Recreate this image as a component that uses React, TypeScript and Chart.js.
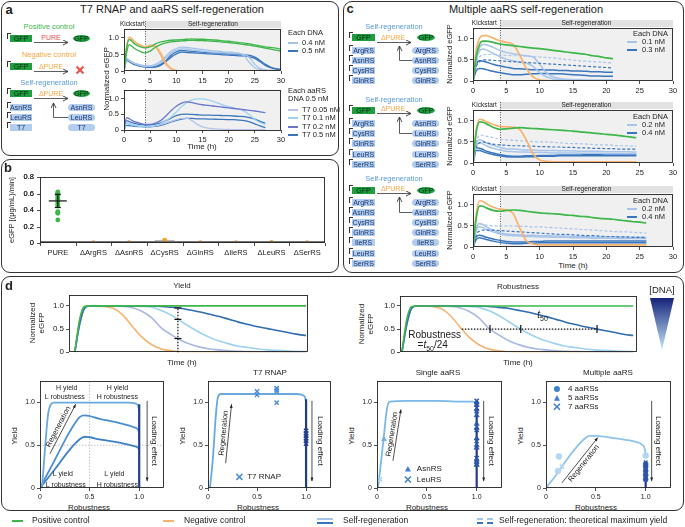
import React, { useEffect, useRef } from 'react';
import { Chart, registerables } from 'chart.js';

Chart.register(...registerables);

const FONT = '"Liberation Sans", Arial, Helvetica, sans-serif';
const INK = '#222';
const GREEN = '#3db64a';
const ORANGE = '#f7b36e';
const LIGHT = '#a7c4ea';
const DARK = '#3a76be';
const LAV = '#b7c5ec';
const SKY = '#9dd2f1';
const PURP = '#6976cb';
const NAVY = '#213c8f';
const GENE = '#b3cdee';
const GENE_TXT = '#1c356e';
const GFP_BG = '#1f9d3f';
const HDR = '#e2e2e2';
const SHADE = '#f0f0f0';

// ---------- panel a (top): each DNA 0.4 / 0.5 nM ----------
const aTime = [0, 0.5, 1, 1.5, 2, 3, 4, 5, 6, 7, 8, 9, 10, 11, 12, 13, 14, 15, 16, 17, 18, 19, 20, 21, 22, 23, 24, 25, 26, 27, 28, 29, 30];
const aPos1 = [0, 0.7, 0.95, 0.9, 0.82, 0.74, 0.7, 0.73, 0.82, 0.88, 0.91, 0.93, 0.94, 0.95, 0.96, 0.97, 0.96, 0.96, 0.95, 0.94, 0.93, 0.91, 0.9, 0.88, 0.86, 0.84, 0.82, 0.79, 0.76, 0.73, 0.71, 0.69, 0.66];
const aPos2 = [0, 0.55, 0.8, 0.75, 0.68, 0.6, 0.55, 0.6, 0.72, 0.8, 0.85, 0.88, 0.9, 0.91, 0.92, 0.93, 0.92, 0.92, 0.91, 0.9, 0.89, 0.87, 0.86, 0.84, 0.82, 0.8, 0.78, 0.75, 0.72, 0.69, 0.66, 0.63, 0.6];
const aNeg1 = [0, 0.75, 1.02, 0.98, 0.9, 0.8, 0.74, 0.78, 0.76, 0.55, 0.25, 0.08, 0.02, 0.01, 0, 0, 0, 0, 0, 0, 0, 0, 0, 0, 0, 0, 0, 0, 0, 0, 0, 0, 0];
const aNeg2 = [0, 0.7, 0.97, 0.95, 0.88, 0.78, 0.72, 0.75, 0.72, 0.48, 0.2, 0.06, 0.02, 0.01, 0, 0, 0, 0, 0, 0, 0, 0, 0, 0, 0, 0, 0, 0, 0, 0, 0, 0, 0];
const aLight1 = [0, 0.38, 0.33, 0.28, 0.24, 0.19, 0.16, 0.16, 0.2, 0.3, 0.45, 0.6, 0.68, 0.72, 0.71, 0.69, 0.67, 0.65, 0.63, 0.61, 0.6, 0.58, 0.57, 0.56, 0.54, 0.45, 0.25, 0.1, 0.04, 0.02, 0.01, 0.01, 0.01];
const aLight2 = [0, 0.35, 0.31, 0.26, 0.22, 0.17, 0.14, 0.14, 0.17, 0.26, 0.4, 0.55, 0.63, 0.67, 0.66, 0.64, 0.62, 0.6, 0.58, 0.57, 0.56, 0.55, 0.54, 0.53, 0.52, 0.5, 0.4, 0.2, 0.08, 0.03, 0.02, 0.01, 0.01];
const aDark1 = [0, 0.36, 0.32, 0.26, 0.22, 0.17, 0.14, 0.13, 0.14, 0.2, 0.32, 0.48, 0.58, 0.62, 0.61, 0.59, 0.58, 0.57, 0.56, 0.55, 0.54, 0.53, 0.52, 0.51, 0.5, 0.49, 0.47, 0.42, 0.32, 0.2, 0.12, 0.07, 0.05];
const aDark2 = [0, 0.32, 0.28, 0.23, 0.19, 0.15, 0.12, 0.11, 0.12, 0.17, 0.28, 0.42, 0.52, 0.57, 0.56, 0.55, 0.54, 0.53, 0.52, 0.51, 0.5, 0.49, 0.48, 0.47, 0.46, 0.45, 0.43, 0.38, 0.28, 0.17, 0.1, 0.06, 0.04];

// ---------- panel a (bottom): T7 DNA series ----------
const a2Time = [0, 0.5, 1, 1.5, 2, 3, 4, 5, 6, 7, 8, 9, 10, 11, 12, 13, 14, 15, 16, 17, 18, 19, 20, 21, 22, 23, 24, 25, 26, 27];
const aT7_005 = [0, 0.25, 0.22, 0.19, 0.17, 0.13, 0.11, 0.11, 0.13, 0.17, 0.22, 0.28, 0.33, 0.37, 0.38, 0.3, 0.18, 0.1, 0.06, 0.04, 0.03, 0.02, 0.02, 0.01, 0.01, 0.01, 0.01, 0.01, 0.01, 0.01];
const aT7_01 = [0, 0.2, 0.18, 0.16, 0.14, 0.12, 0.11, 0.12, 0.15, 0.2, 0.3, 0.42, 0.58, 0.75, 0.88, 0.97, 1.0, 1.0, 0.97, 0.92, 0.86, 0.8, 0.75, 0.71, 0.67, 0.6, 0.48, 0.34, 0.24, 0.18];
const aT7_02 = [0, 0.4, 0.36, 0.31, 0.27, 0.22, 0.18, 0.18, 0.22, 0.3, 0.45, 0.62, 0.76, 0.86, 0.9, 0.88, 0.84, 0.81, 0.79, 0.77, 0.75, 0.73, 0.71, 0.69, 0.67, 0.65, 0.63, 0.61, 0.58, 0.56];
const aT7_05a = [0, 0.3, 0.27, 0.24, 0.21, 0.18, 0.16, 0.16, 0.18, 0.22, 0.3, 0.38, 0.46, 0.5, 0.51, 0.5, 0.49, 0.48, 0.48, 0.47, 0.47, 0.46, 0.46, 0.45, 0.44, 0.43, 0.4, 0.35, 0.28, 0.22];
const aT7_05b = [0, 0.15, 0.14, 0.13, 0.12, 0.11, 0.1, 0.1, 0.12, 0.15, 0.2, 0.26, 0.31, 0.35, 0.37, 0.37, 0.36, 0.36, 0.35, 0.35, 0.34, 0.34, 0.33, 0.33, 0.32, 0.3, 0.26, 0.2, 0.13, 0.08];

// ---------- panel b ----------
const bCats = ['PURE', 'ΔArgRS', 'ΔAsnRS', 'ΔCysRS', 'ΔGlnRS', 'ΔIleRS', 'ΔLeuRS', 'ΔSerRS'];
const bMeans = [0.51, 0.003, 0.002, 0.03, 0.002, 0.002, 0.003, 0.002];
const bSd = [0.08, 0, 0, 0.005, 0, 0, 0, 0];
const bPureReps = [0.62, 0.61, 0.6, 0.58, 0.57, 0.55, 0.53, 0.52, 0.5, 0.48, 0.46, 0.45, 0.38, 0.37, 0.36, 0.28];
const bDeltaReps = [0.005, 0.004, 0.035, 0.003, 0.003, 0.006, 0.003];
const bYTicks = [0, 0.2, 0.4, 0.6, 0.8];
const bYMax = 0.8;

// ---------- panel c ----------
const c1Time = [0, 0.5, 1, 1.5, 2, 3, 4, 5, 6, 7, 8, 9, 10, 11, 12, 13, 14, 15, 16, 17, 18, 19, 20, 21];
const c1Neg = [0, 0.75, 1.02, 1.08, 1.08, 1.02, 0.96, 0.92, 0.87, 0.62, 0.3, 0.1, 0.03, 0.01, 0, 0, 0, 0, 0, 0, 0, 0, 0, 0];
const c1Pos = [0, 0.6, 0.88, 0.95, 0.95, 0.92, 0.88, 0.86, 0.84, 0.82, 0.8, 0.78, 0.77, 0.75, 0.73, 0.71, 0.69, 0.67, 0.65, 0.63, 0.6, 0.58, 0.55, 0.53];
const c1LightA = [0, 0.55, 0.8, 0.87, 0.86, 0.8, 0.73, 0.68, 0.65, 0.62, 0.6, 0.57, 0.4, 0.2, 0.1, 0.06, 0.04, 0.03, 0.03, 0.02, 0.02, 0.02, 0.02, 0.02];
const c1LightB = [0, 0.5, 0.72, 0.76, 0.74, 0.66, 0.58, 0.52, 0.48, 0.45, 0.42, 0.35, 0.2, 0.1, 0.05, 0.04, 0.03, 0.03, 0.02, 0.02, 0.02, 0.02, 0.02, 0.02];
const c1LightMax = [0, 0.45, 0.58, 0.62, 0.63, 0.63, 0.62, 0.61, 0.6, 0.6, 0.59, 0.58, 0.57, 0.56, 0.55, 0.53, 0.51, 0.5, 0.48, 0.47, 0.46, 0.45, 0.44, 0.43];
const c1DarkMax = [0, 0.35, 0.46, 0.5, 0.5, 0.49, 0.48, 0.47, 0.46, 0.45, 0.44, 0.43, 0.42, 0.41, 0.4, 0.39, 0.38, 0.37, 0.36, 0.35, 0.34, 0.33, 0.32, 0.31];
const c1DarkA = [0, 0.4, 0.48, 0.47, 0.45, 0.4, 0.36, 0.33, 0.3, 0.29, 0.28, 0.27, 0.27, 0.26, 0.26, 0.25, 0.25, 0.24, 0.24, 0.23, 0.22, 0.22, 0.21, 0.21];
const c1DarkB = [0, 0.25, 0.3, 0.29, 0.27, 0.23, 0.2, 0.17, 0.15, 0.15, 0.16, 0.17, 0.18, 0.18, 0.17, 0.17, 0.16, 0.15, 0.14, 0.13, 0.12, 0.12, 0.11, 0.11];

const c2Time = [0, 0.5, 1, 1.5, 2, 3, 4, 5, 6, 7, 8, 9, 10, 11, 12, 13, 14, 15, 16, 17, 18, 19, 20, 21, 22, 23, 24, 24.5];
const c2Neg = [0, 0.8, 1.04, 1.02, 0.98, 0.92, 0.87, 0.86, 0.85, 0.8, 0.55, 0.22, 0.07, 0.04, 0.03, 0.03, 0.03, 0.03, 0.03, 0.03, 0.03, 0.03, 0.03, 0.03, 0.03, 0.03, 0.03, 0.03];
const c2Pos = [0, 0.75, 0.98, 0.97, 0.93, 0.85, 0.8, 0.81, 0.83, 0.84, 0.83, 0.82, 0.81, 0.8, 0.79, 0.78, 0.77, 0.76, 0.74, 0.73, 0.71, 0.7, 0.68, 0.67, 0.65, 0.63, 0.61, 0.6];
const c2LightMax = [0, 0.5, 0.66, 0.66, 0.64, 0.6, 0.57, 0.55, 0.54, 0.53, 0.52, 0.51, 0.5, 0.5, 0.49, 0.48, 0.47, 0.46, 0.46, 0.45, 0.44, 0.43, 0.43, 0.42, 0.41, 0.41, 0.4, 0.4];
const c2DarkMax = [0, 0.38, 0.48, 0.5, 0.48, 0.45, 0.43, 0.42, 0.41, 0.41, 0.4, 0.4, 0.39, 0.39, 0.38, 0.38, 0.37, 0.37, 0.36, 0.36, 0.35, 0.35, 0.34, 0.34, 0.33, 0.33, 0.33, 0.33];
const c2LightA = [0, 0.45, 0.55, 0.52, 0.48, 0.42, 0.37, 0.34, 0.33, 0.32, 0.31, 0.31, 0.3, 0.3, 0.3, 0.29, 0.29, 0.29, 0.28, 0.28, 0.28, 0.28, 0.27, 0.27, 0.27, 0.27, 0.26, 0.26];
const c2LightB = [0, 0.4, 0.48, 0.45, 0.41, 0.35, 0.31, 0.28, 0.27, 0.26, 0.26, 0.25, 0.25, 0.25, 0.24, 0.24, 0.24, 0.24, 0.23, 0.23, 0.23, 0.23, 0.22, 0.22, 0.22, 0.22, 0.22, 0.22];
const c2DarkA = [0, 0.36, 0.35, 0.32, 0.28, 0.24, 0.2, 0.17, 0.16, 0.16, 0.17, 0.17, 0.18, 0.18, 0.18, 0.19, 0.19, 0.19, 0.19, 0.2, 0.2, 0.2, 0.2, 0.2, 0.2, 0.2, 0.2, 0.2];
const c2DarkB = [0, 0.3, 0.3, 0.27, 0.24, 0.2, 0.17, 0.15, 0.14, 0.14, 0.15, 0.15, 0.16, 0.16, 0.16, 0.17, 0.17, 0.17, 0.17, 0.17, 0.17, 0.17, 0.17, 0.17, 0.17, 0.17, 0.17, 0.17];

const c3Time = [0, 0.5, 1, 1.5, 2, 3, 4, 5, 6, 7, 8, 9, 10, 11, 12, 13, 14, 15, 16, 17, 18, 19, 20, 21, 22, 23, 24, 25, 26];
const c3Neg = [0, 0.8, 1.1, 1.08, 1.03, 0.95, 0.9, 0.88, 0.8, 0.45, 0.15, 0.07, 0.05, 0.05, 0.05, 0.05, 0.05, 0.05, 0.05, 0.05, 0.05, 0.05, 0.05, 0.05, 0.05, 0.05, 0.05, 0.05, 0.05];
const c3Pos = [0, 0.7, 0.98, 0.97, 0.93, 0.87, 0.85, 0.87, 0.88, 0.87, 0.85, 0.83, 0.81, 0.8, 0.79, 0.78, 0.76, 0.75, 0.73, 0.72, 0.7, 0.68, 0.67, 0.66, 0.64, 0.62, 0.6, 0.59, 0.57];
const c3LightMax = [0, 0.45, 0.55, 0.54, 0.52, 0.5, 0.5, 0.5, 0.5, 0.49, 0.49, 0.48, 0.48, 0.47, 0.46, 0.45, 0.44, 0.43, 0.42, 0.41, 0.4, 0.39, 0.38, 0.37, 0.36, 0.36, 0.35, 0.34, 0.33];
const c3DarkMax = [0, 0.3, 0.38, 0.4, 0.4, 0.4, 0.39, 0.38, 0.37, 0.36, 0.35, 0.34, 0.33, 0.32, 0.31, 0.3, 0.3, 0.29, 0.28, 0.27, 0.27, 0.26, 0.25, 0.25, 0.24, 0.24, 0.23, 0.23, 0.22];
const c3LightA = [0, 0.45, 0.56, 0.53, 0.48, 0.4, 0.34, 0.31, 0.3, 0.29, 0.28, 0.28, 0.27, 0.27, 0.26, 0.26, 0.26, 0.25, 0.25, 0.25, 0.24, 0.24, 0.24, 0.24, 0.23, 0.23, 0.23, 0.23, 0.23];
const c3LightB = [0, 0.4, 0.48, 0.46, 0.42, 0.36, 0.31, 0.28, 0.27, 0.26, 0.25, 0.25, 0.24, 0.24, 0.23, 0.23, 0.23, 0.22, 0.22, 0.22, 0.21, 0.21, 0.21, 0.21, 0.2, 0.2, 0.2, 0.2, 0.2];
const c3DarkA = [0, 0.25, 0.28, 0.26, 0.23, 0.19, 0.16, 0.13, 0.12, 0.12, 0.12, 0.13, 0.13, 0.14, 0.14, 0.14, 0.14, 0.14, 0.14, 0.14, 0.14, 0.14, 0.14, 0.14, 0.14, 0.14, 0.14, 0.14, 0.14];
const c3DarkB = [0, 0.18, 0.22, 0.2, 0.18, 0.14, 0.11, 0.09, 0.08, 0.08, 0.09, 0.09, 0.1, 0.1, 0.1, 0.1, 0.1, 0.1, 0.1, 0.1, 0.1, 0.1, 0.1, 0.1, 0.1, 0.1, 0.1, 0.1, 0.1];

// ---------- panel d: model curves ----------
const dTime = [0, 0.5, 1, 1.5, 2, 3, 4, 5, 6, 7, 8, 9, 10, 11, 12, 13, 14, 15, 16, 17, 18, 19, 20, 21, 22, 23, 24];
const dPos = [0, 0.7, 0.99, 1, 1, 1, 1, 1, 1, 1, 1, 1, 1, 1, 1, 1, 1, 1, 1, 1, 1, 1, 1, 1, 1, 1, 1];
const dNeg = [0, 0.7, 0.97, 1, 1, 0.99, 0.95, 0.8, 0.55, 0.32, 0.16, 0.07, 0.03, 0.01, 0, 0, 0, 0, 0, 0, 0, 0, 0, 0, 0, 0, 0];
const dLow = [0, 0.6, 0.95, 1, 1, 1, 1, 0.99, 0.96, 0.88, 0.74, 0.52, 0.38, 0.26, 0.17, 0.11, 0.07, 0.05, 0.03, 0.02, 0.015, 0.01, 0.01, 0.005, 0, 0, 0];
const dMid = [0, 0.6, 0.95, 1, 1, 1, 1, 1, 1, 0.99, 0.97, 0.9, 0.8, 0.67, 0.54, 0.42, 0.32, 0.24, 0.18, 0.13, 0.1, 0.07, 0.05, 0.04, 0.03, 0.02, 0.015];
const dHigh = [0, 0.6, 0.95, 1, 1, 1, 1, 1, 1, 1, 1, 0.99, 0.97, 0.95, 0.91, 0.87, 0.82, 0.77, 0.71, 0.65, 0.6, 0.55, 0.51, 0.47, 0.43, 0.39, 0.36];
const dYieldMarkT = 10.7;
const dRobTicks = [0, 0.5, 1];

// yield vs robustness schematics
const s1TopX = [0.02, 0.05, 0.08, 0.11, 0.14, 0.3, 0.6, 0.9, 0.96, 0.99, 1.0];
const s1TopY = [0, 0.45, 0.85, 0.98, 1.0, 1.0, 1.0, 1.0, 0.99, 0.96, 0.9];
const s1MidX = [0, 0.15, 0.3, 0.4, 0.45, 0.6, 0.8, 0.95, 0.99, 1.0];
const s1MidY = [0, 0.33, 0.66, 0.83, 0.85, 0.81, 0.76, 0.71, 0.68, 0.64];
const s1LowX = [0, 0.15, 0.3, 0.4, 0.45, 0.6, 0.8, 0.95, 0.99, 1.0];
const s1LowY = [0, 0.22, 0.45, 0.57, 0.6, 0.57, 0.53, 0.49, 0.47, 0.45];
const s1EdgeY = [0, 0.98];

const s2CurveX = [0.02, 0.05, 0.08, 0.1, 0.13, 0.3, 0.6, 0.9, 0.96, 0.99, 1.0];
const s2CurveY = [0, 0.35, 0.85, 1.06, 1.1, 1.1, 1.1, 1.1, 1.09, 1.06, 1.0];
const s2EdgeY = [0, 1.04];
const s2PtsX = [0.5, 0.5, 0.7, 0.7, 0.7, 0.7];
const s2PtsY = [1.13, 1.09, 1.17, 1.15, 1.13, 1.0];
const s2EdgePtsY = [0.52, 0.55, 0.58, 0.61, 0.64, 0.67];

const s3CurveX = [0.01, 0.04, 0.07, 0.1, 0.13, 0.3, 0.6, 0.9, 0.97, 1.0];
const s3CurveY = [0, 0.3, 0.62, 0.93, 1.01, 1.02, 1.02, 1.01, 1.01, 1.0];
const s3EdgeY = [0, 1.0];
const s3AsnX = [0.07];
const s3AsnY = [0.57];
const s3LeuX = [0.03];
const s3LeuY = [0.1];
const s3EdgeAsnY = [0.27, 0.3, 0.33, 0.47, 0.5, 0.58, 0.7, 0.75, 0.85, 0.92, 0.97, 1.0];
const s3EdgeLeuY = [0.28, 0.35, 0.55, 0.68, 0.9, 0.98, 1.02];

const s4CurveX = [0, 0.1, 0.2, 0.3, 0.38, 0.44, 0.5, 0.7, 0.9, 0.96, 0.99, 1.0];
const s4CurveY = [0, 0.15, 0.32, 0.47, 0.57, 0.61, 0.61, 0.58, 0.54, 0.51, 0.46, 0.38];
const s4EdgeY = [0, 0.3];
const s4CircX = [0.13, 0.12, 1.0];
const s4CircY = [0.37, 0.2, 0.38];
const s4CrossX = [0.16];
const s4CrossY = [0.25];
const s4EdgeCircY = [0.1, 0.15, 0.2, 0.25, 0.28];
const s4EdgeTriY = [0.12, 0.18, 0.22];
const s4EdgeCrossY = [0.14, 0.24, 0.3];

// ---------- helpers ----------
const fmt1 = (v: number) => (v === 0 ? '0' : v.toFixed(1));
const pts = (xs: number[], ys: number[]) => xs.map((x, i) => ({ x, y: ys[i] }));
const ones = (ys: number[]) => ys.map(() => 1);

const ln = (xs: number[], ys: number[], color: string, width = 1.3, dash: number[] = []) => ({
  data: pts(xs, ys), borderColor: color, backgroundColor: color, borderWidth: width, borderDash: dash,
  pointRadius: 0, cubicInterpolationMode: 'monotone', tension: 0.4, fill: false,
});
const straight = (xs: number[], ys: number[], color: string, width = 2) => ({
  data: pts(xs, ys), borderColor: color, borderWidth: width, pointRadius: 0, tension: 0, fill: false,
});
const mk = (xs: number[], ys: number[], style: string, color: string, r = 3) => ({
  data: pts(xs, ys), showLine: false, pointStyle: style, pointRadius: r,
  pointBackgroundColor: color, pointBorderColor: color, pointBorderWidth: style === 'crossRot' ? 1.4 : 0.5, borderWidth: 0,
});

function interp(xs: number[], ys: number[], t: number) {
  for (let i = 1; i < xs.length; i++) {
    if (xs[i] >= t) {
      const f = (t - xs[i - 1]) / (xs[i] - xs[i - 1]);
      return ys[i - 1] + f * (ys[i] - ys[i - 1]);
    }
  }
  return ys[ys.length - 1];
}
function half(xs: number[], ys: number[]) {
  for (let i = 3; i < xs.length; i++) {
    if (ys[i - 1] >= 0.5 && ys[i] < 0.5) {
      const f = (ys[i - 1] - 0.5) / (ys[i - 1] - ys[i]);
      return xs[i - 1] + f * (xs[i] - xs[i - 1]);
    }
  }
  return xs[xs.length - 1];
}

function txt(ctx: any, s: string, x: number, y: number, size = 7.5, color = INK, align = 'center', rot = 0, style = '') {
  ctx.save();
  ctx.translate(x, y);
  ctx.rotate(rot);
  ctx.font = `${style} ${size}px ${FONT}`;
  ctx.fillStyle = color;
  ctx.textAlign = align;
  ctx.textBaseline = 'middle';
  ctx.fillText(s, 0, 0);
  ctx.restore();
}
function arrow(ctx: any, x1: number, y1: number, x2: number, y2: number, color = INK, lw = 0.8, head = 4) {
  ctx.save();
  ctx.strokeStyle = color; ctx.fillStyle = color; ctx.lineWidth = lw;
  ctx.beginPath(); ctx.moveTo(x1, y1); ctx.lineTo(x2, y2); ctx.stroke();
  const a = Math.atan2(y2 - y1, x2 - x1);
  ctx.beginPath();
  ctx.moveTo(x2, y2);
  ctx.lineTo(x2 - head * Math.cos(a - 0.38), y2 - head * Math.sin(a - 0.38));
  ctx.lineTo(x2 - head * Math.cos(a + 0.38), y2 - head * Math.sin(a + 0.38));
  ctx.closePath(); ctx.fill();
  ctx.restore();
}
function mark(ctx: any, kind: string, x: number, y: number, color: string, r = 3) {
  ctx.save();
  ctx.fillStyle = color; ctx.strokeStyle = color; ctx.lineWidth = 1.5;
  ctx.beginPath();
  if (kind === 'circle') { ctx.arc(x, y, r, 0, Math.PI * 2); ctx.fill(); }
  else if (kind === 'triangle') { ctx.moveTo(x, y - r * 1.1); ctx.lineTo(x + r, y + r * 0.8); ctx.lineTo(x - r, y + r * 0.8); ctx.closePath(); ctx.fill(); }
  else { ctx.moveTo(x - r, y - r); ctx.lineTo(x + r, y + r); ctx.moveTo(x + r, y - r); ctx.lineTo(x - r, y + r); ctx.stroke(); }
  ctx.restore();
}
function regen(ctx: any, X: any, Y: any, p1: number[], p2: number[], side: number) {
  const x1 = X(p1[0]), y1 = Y(p1[1]), x2 = X(p2[0]), y2 = Y(p2[1]);
  arrow(ctx, x1, y1, x2, y2);
  const a = Math.atan2(y2 - y1, x2 - x1);
  const off = side * 5;
  txt(ctx, 'Regeneration', (x1 + x2) / 2 - off * Math.sin(a), (y1 + y2) / 2 + off * Math.cos(a), 7.5, INK, 'center', a);
}
function loading(ctx: any, X: any, Y: any, xa: number, xt: number) {
  arrow(ctx, X(xa), Y(1.02), X(xa), Y(0.08));
  txt(ctx, 'Loading effect', X(xt), Y(0.55), 8, INK, 'center', Math.PI / 2);
}
function rich(ctx: any, parts: any[], cx: number, cy: number) {
  ctx.save();
  ctx.textBaseline = 'middle';
  let total = 0;
  for (const p of parts) { ctx.font = `${p.it ? 'italic ' : ''}${p.size}px ${FONT}`; total += ctx.measureText(p.s).width; }
  let x = cx - total / 2;
  for (const p of parts) {
    ctx.font = `${p.it ? 'italic ' : ''}${p.size}px ${FONT}`;
    ctx.fillStyle = INK;
    ctx.textAlign = 'left';
    ctx.fillText(p.s, x, cy + (p.dy || 0));
    x += ctx.measureText(p.s).width;
  }
  ctx.restore();
}

const framePlugin = (lw = 0.9) => ({
  id: 'frame',
  afterDatasetsDraw(c: any) {
    const a = c.chartArea; const ctx = c.ctx;
    ctx.save(); ctx.strokeStyle = INK; ctx.lineWidth = lw;
    ctx.strokeRect(Math.round(a.left) + 0.5, Math.round(a.top) + 0.5, Math.round(a.right - a.left) - 1, Math.round(a.bottom - a.top) - 1);
    ctx.restore();
  },
});
const kickPlugin = (header: boolean) => ({
  id: 'kick',
  beforeDatasetsDraw(c: any) {
    const { left, right, top, bottom } = c.chartArea;
    const x4 = c.scales.x.getPixelForValue(4);
    const ctx = c.ctx;
    ctx.save();
    ctx.fillStyle = SHADE; ctx.fillRect(x4, top, right - x4, bottom - top);
    const y0 = header ? top - 8 : top;
    if (header) {
      ctx.fillStyle = HDR; ctx.fillRect(x4, top - 8, right - x4, 7);
      txt(ctx, 'Kickstart', (left + x4) / 2 - 2, top - 4.5, 6.5);
      txt(ctx, 'Self-regeneration', (x4 + right) / 2, top - 4.5, 6.5);
    }
    ctx.strokeStyle = '#333'; ctx.lineWidth = 0.8; ctx.setLineDash([1, 1.5]);
    ctx.beginPath(); ctx.moveTo(Math.round(x4) + 0.5, y0); ctx.lineTo(Math.round(x4) + 0.5, bottom); ctx.stroke();
    ctx.restore();
  },
});
const annot = (under: any, over: any) => ({
  id: 'annot',
  beforeDatasetsDraw(c: any) {
    if (under) under(c.ctx, (v: number) => c.scales.x.getPixelForValue(v), (v: number) => c.scales.y.getPixelForValue(v), c);
  },
  afterDatasetsDraw(c: any) {
    if (over) over(c.ctx, (v: number) => c.scales.x.getPixelForValue(v), (v: number) => c.scales.y.getPixelForValue(v), c);
  },
});

const axisOpts = (a: any, isX: boolean, l: number, b: number) => ({
  type: 'linear', min: a.min, max: a.max, display: true,
  afterFit: (s: any) => { if (isX) s.height = b; else s.width = l; },
  afterBuildTicks: (s: any) => { s.ticks = a.ticks.map((v: number) => ({ value: v })); },
  ticks: {
    display: a.show !== false, font: { size: a.size || 7.5, family: FONT }, color: INK,
    padding: a.pad == null ? 2 : a.pad, maxRotation: 0, autoSkip: false,
    callback: (v: number) => (a.fmt ? a.fmt(v) : String(v)),
  },
  grid: { display: a.ticks.length > 0, drawOnChartArea: false, drawTicks: true, tickLength: 3, color: INK, lineWidth: 0.8 },
  border: { display: false },
});

function mkOpts(x: any, y: any, l: number, t: number, r: number, b: number) {
  return {
    responsive: false, animation: false, devicePixelRatio: 1, events: [],
    layout: { padding: { top: t, right: r, left: 0, bottom: 0 } },
    plugins: { legend: { display: false }, tooltip: { enabled: false } },
    scales: { x: axisOpts(x, true, l, b), y: axisOpts(y, false, l, b) },
  };
}

function Plot({ x, y, w, h, l, t, r, b, make }: any) {
  const ref = useRef<HTMLCanvasElement>(null);
  useEffect(() => {
    const chart = new Chart(ref.current as HTMLCanvasElement, make(l, t, r, b));
    return () => chart.destroy();
  }, []);
  const W = w + l + r, H = h + t + b;
  return <canvas ref={ref} width={W} height={H} style={{ position: 'absolute', left: x - l, top: y - t, width: W, height: H }} />;
}

// ---------- chart configs ----------
const timeX = { min: 0, max: 30, ticks: [0, 5, 10, 15, 20, 25, 30] };
const normY = (max: number) => ({ min: 0, max, ticks: [0, 0.5, 1], fmt: fmt1 });

const makeA1 = (l: number, t: number, r: number, b: number) => ({
  type: 'line',
  data: { datasets: [
    ln(aTime, aPos1, GREEN), ln(aTime, aPos2, GREEN),
    ln(aTime, aNeg1, ORANGE), ln(aTime, aNeg2, ORANGE),
    ln(aTime, aLight1, LIGHT), ln(aTime, aLight2, LIGHT),
    ln(aTime, aDark1, DARK), ln(aTime, aDark2, DARK),
  ] },
  options: mkOpts(timeX, normY(1.27), l, t, r, b),
  plugins: [kickPlugin(true), framePlugin()],
});
const makeA2 = (l: number, t: number, r: number, b: number) => ({
  type: 'line',
  data: { datasets: [
    ln(a2Time, aT7_02, PURP), ln(a2Time, aT7_01, SKY), ln(a2Time, aT7_005, LAV),
    ln(a2Time, aT7_05a, DARK), ln(a2Time, aT7_05b, DARK),
  ] },
  options: mkOpts(timeX, normY(1.3), l, t, r, b),
  plugins: [kickPlugin(false), framePlugin()],
});

// panel b: linear x axis whose ticks are category indices, labelled with bCats
const makeB = (l: number, t: number, r: number, b: number) => {
  const idx = bCats.map((_, i) => i);
  const bounds = [...bCats.map((_, i) => i - 0.5), bCats.length - 0.5];
  return {
    type: 'line',
    data: {
      datasets: [
        { data: bPureReps.map((v) => ({ x: 0, y: v })), showLine: false, pointRadius: 2.4, pointBackgroundColor: GREEN, pointBorderWidth: 0, borderWidth: 0 },
        { data: bDeltaReps.map((v, i) => ({ x: i + 1, y: v })), showLine: false, pointRadius: 2.4, pointBackgroundColor: '#f2a31b', pointBorderWidth: 0, borderWidth: 0 },
      ],
    },
    options: {
      responsive: false, animation: false, devicePixelRatio: 1, events: [],
      layout: { padding: { top: t, right: r, left: 0, bottom: 0 } },
      plugins: { legend: { display: false }, tooltip: { enabled: false } },
      scales: {
        x: {
          type: 'linear', min: -0.5, max: bCats.length - 0.5,
          afterFit: (s: any) => { s.height = b; },
          afterBuildTicks: (s: any) => { s.ticks = idx.map((v) => ({ value: v })); },
          ticks: { font: { size: 7.5, family: FONT }, color: INK, padding: 5, maxRotation: 0, autoSkip: false, callback: (v: number) => bCats[Math.round(v)] },
          grid: { display: false, drawTicks: false, tickLength: 0 },
          border: { display: false },
        },
        y: {
          type: 'linear', position: 'left', min: 0, max: bYMax,
          afterFit: (s: any) => { s.width = l; },
          ticks: { display: false },
          grid: { display: false },
          border: { display: false },
        },
      },
    },
    plugins: [
      annot((ctx: any, X: any, Y: any) => {
        ctx.save(); ctx.fillStyle = '#6b6b6b';
        bMeans.forEach((m, i) => {
          if (i === 0) return;
          const x0 = X(i - 0.28), x1 = X(i + 0.28);
          ctx.fillRect(x0, Y(m), x1 - x0, Y(0) - Y(m));
        });
        ctx.restore();
      }, (ctx: any, X: any, Y: any, c: any) => {
        const a = c.chartArea;
        ctx.save();
        ctx.strokeStyle = '#777'; ctx.lineWidth = 2;
        ctx.beginPath(); ctx.moveTo(a.left, a.bottom - 1); ctx.lineTo(a.right, a.bottom - 1); ctx.stroke();
        ctx.strokeStyle = INK; ctx.lineWidth = 0.8;
        for (const v of bounds) { const px = Math.round(X(v)) + 0.5; ctx.beginPath(); ctx.moveTo(px, a.bottom); ctx.lineTo(px, a.bottom + 3); ctx.stroke(); }
        // y ticks and labels from the panel's tick list, placed with the chart's y scale
        for (const v of bYTicks) {
          const py = Math.round(Y(v)) + 0.5;
          ctx.beginPath(); ctx.moveTo(a.left - 3, py); ctx.lineTo(a.left, py); ctx.stroke();
          txt(ctx, fmt1(v), a.left - 6, Y(v), 7.5, INK, 'right');
        }
        const cx = X(0);
        ctx.strokeStyle = '#111'; ctx.lineWidth = 1.2;
        ctx.beginPath(); ctx.moveTo(cx - 9, Y(bMeans[0])); ctx.lineTo(cx + 9, Y(bMeans[0])); ctx.stroke();
        ctx.beginPath(); ctx.moveTo(cx, Y(bMeans[0] - bSd[0])); ctx.lineTo(cx, Y(bMeans[0] + bSd[0])); ctx.stroke();
        for (const v of [bMeans[0] - bSd[0], bMeans[0] + bSd[0]]) { ctx.beginPath(); ctx.moveTo(cx - 3, Y(v)); ctx.lineTo(cx + 3, Y(v)); ctx.stroke(); }
        ctx.restore();
      }),
      framePlugin(),
    ],
  };
};

const makeC = (time: number[], pos: number[], neg: number[], lA: number[], lB: number[], lMax: number[], dA: number[], dB: number[], dMax: number[]) =>
  (l: number, t: number, r: number, b: number) => ({
    type: 'line',
    data: { datasets: [
      ln(time, pos, GREEN, 1.7), ln(time, neg, ORANGE, 1.7),
      ln(time, lMax, LIGHT, 1.2, [3, 2]), ln(time, dMax, DARK, 1.2, [3, 2]),
      ln(time, lA, LIGHT, 1.5), ln(time, lB, LIGHT, 1.5),
      ln(time, dA, DARK, 1.5), ln(time, dB, DARK, 1.5),
    ] },
    options: mkOpts(timeX, normY(1.26), l, t, r, b),
    plugins: [kickPlugin(true), framePlugin()],
  });
const makeC1 = makeC(c1Time, c1Pos, c1Neg, c1LightA, c1LightB, c1LightMax, c1DarkA, c1DarkB, c1DarkMax);
const makeC2 = makeC(c2Time, c2Pos, c2Neg, c2LightA, c2LightB, c2LightMax, c2DarkA, c2DarkB, c2DarkMax);
const makeC3 = makeC(c3Time, c3Pos, c3Neg, c3LightA, c3LightB, c3LightMax, c3DarkA, c3DarkB, c3DarkMax);

const dSeries = () => [
  ln(dTime, dPos, GREEN, 1.6), ln(dTime, dHigh, '#2f6cb0', 1.6), ln(dTime, dMid, SKY, 1.6),
  ln(dTime, dLow, '#a9b8e2', 1.6), ln(dTime, dNeg, ORANGE, 1.6),
];
const makeYield = (l: number, t: number, r: number, b: number) => ({
  type: 'line',
  data: { datasets: dSeries() },
  options: mkOpts({ min: -0.6, max: 24.2, ticks: [], show: false }, { min: 0, max: 1.24, ticks: dRobTicks, fmt: fmt1, size: 8 }, l, t, r, b),
  plugins: [framePlugin(), annot(null, (ctx: any, X: any, Y: any) => {
    const xm = X(dYieldMarkT);
    const top = interp(dTime, dHigh, dYieldMarkT);
    ctx.save(); ctx.strokeStyle = '#111'; ctx.lineWidth = 1.2; ctx.setLineDash([1.5, 1.5]);
    ctx.beginPath(); ctx.moveTo(xm, Y(0)); ctx.lineTo(xm, Y(top)); ctx.stroke();
    ctx.setLineDash([]);
    for (const s of [dHigh, dMid, dLow]) {
      const v = interp(dTime, s, dYieldMarkT);
      ctx.beginPath(); ctx.moveTo(xm - 3.5, Y(v)); ctx.lineTo(xm + 3.5, Y(v)); ctx.stroke();
    }
    ctx.restore();
  })],
});
const makeRobust = (l: number, t: number, r: number, b: number) => ({
  type: 'line',
  data: { datasets: dSeries() },
  options: mkOpts({ min: -0.2, max: 24.4, ticks: [], show: false }, { min: 0, max: 1.22, ticks: dRobTicks, fmt: fmt1, size: 8 }, l, t, r, b),
  plugins: [framePlugin(), annot(null, (ctx: any, X: any, Y: any) => {
    const tn = half(dTime, dNeg), tl = half(dTime, dLow), tm = half(dTime, dMid), th = half(dTime, dHigh);
    ctx.save(); ctx.strokeStyle = '#111'; ctx.lineWidth = 1.2; ctx.setLineDash([1.5, 1.5]);
    ctx.beginPath(); ctx.moveTo(X(tn), Y(0.5)); ctx.lineTo(X(th), Y(0.5)); ctx.stroke();
    ctx.setLineDash([]);
    for (const v of [tl, tm, th]) { ctx.beginPath(); ctx.moveTo(X(v), Y(0.5) - 4); ctx.lineTo(X(v), Y(0.5) + 4); ctx.stroke(); }
    ctx.restore();
    rich(ctx, [{ s: 't', size: 10, it: true }, { s: '50', size: 7, dy: 4 }], X(14.6), Y(0.8));
    txt(ctx, 'Robustness', X(3.4), Y(0.37), 10);
    rich(ctx, [{ s: '=', size: 10 }, { s: 't', size: 10, it: true }, { s: '50', size: 7, dy: 4 }, { s: '/24', size: 10 }], X(3.2), Y(0.15));
  })],
});

const ryAxes = (l: number, t: number, r: number, b: number) =>
  mkOpts({ min: 0, max: 1.25, ticks: [0, 0.5, 1], fmt: fmt1, size: 7 }, { min: 0, max: 1.25, ticks: [0, 0.5, 1], fmt: fmt1, size: 7 }, l, t, r, b);

const makeS1 = (l: number, t: number, r: number, b: number) => ({
  type: 'line',
  data: { datasets: [
    straight([1, 1], s1EdgeY, NAVY, 2.2),
    ln(s1TopX, s1TopY, '#6aa8e0', 1.8), ln(s1MidX, s1MidY, '#4b8fd2', 1.8), ln(s1LowX, s1LowY, '#3d80c8', 1.8),
  ] },
  options: ryAxes(l, t, r, b),
  plugins: [framePlugin(), annot((ctx: any, X: any, Y: any) => {
    ctx.save(); ctx.strokeStyle = '#aaa'; ctx.lineWidth = 0.7; ctx.setLineDash([1.5, 1.5]);
    ctx.beginPath(); ctx.moveTo(X(0.5), Y(0)); ctx.lineTo(X(0.5), Y(1.25)); ctx.stroke();
    ctx.beginPath(); ctx.moveTo(X(0), Y(0.5)); ctx.lineTo(X(1.25), Y(0.5)); ctx.stroke();
    ctx.restore();
  }, (ctx: any, X: any, Y: any) => {
    txt(ctx, 'H yield', X(0.27), Y(1.17), 7); txt(ctx, 'L robustness', X(0.25), Y(1.07), 7);
    txt(ctx, 'H yield', X(0.78), Y(1.17), 7); txt(ctx, 'H robustness', X(0.78), Y(1.07), 7);
    txt(ctx, 'L yield', X(0.23), Y(0.16), 7); txt(ctx, 'L robustness', X(0.26), Y(0.04), 7);
    txt(ctx, 'L yield', X(0.75), Y(0.16), 7); txt(ctx, 'H robustness', X(0.78), Y(0.04), 7);
    regen(ctx, X, Y, [0.1, 0.4], [0.36, 0.98], -1);
    loading(ctx, X, Y, 1.08, 1.15);
  })],
});
const makeS2 = (l: number, t: number, r: number, b: number) => ({
  type: 'line',
  data: { datasets: [
    mk(s2PtsX, s2PtsY, 'crossRot', '#4a8fd6'),
    mk(ones(s2EdgePtsY), s2EdgePtsY, 'crossRot', NAVY),
    straight([1, 1], s2EdgeY, NAVY, 2.2),
    ln(s2CurveX, s2CurveY, '#6aa8e0', 1.8),
  ] },
  options: ryAxes(l, t, r, b),
  plugins: [framePlugin(), annot(null, (ctx: any, X: any, Y: any) => {
    regen(ctx, X, Y, [0.18, 0.29], [0.24, 0.98], -1);
    loading(ctx, X, Y, 1.06, 1.14);
    mark(ctx, 'cross', X(0.32), Y(0.13), '#4a8fd6');
    txt(ctx, 'T7 RNAP', X(0.4), Y(0.13), 8, INK, 'left');
  })],
});
const makeS3 = (l: number, t: number, r: number, b: number) => ({
  type: 'line',
  data: { datasets: [
    mk(s3AsnX, s3AsnY, 'triangle', '#6aaee4'),
    mk(s3LeuX, s3LeuY, 'crossRot', '#a8d4f2'),
    mk(ones(s3EdgeAsnY), s3EdgeAsnY, 'triangle', '#2c55a8'),
    mk(ones(s3EdgeLeuY), s3EdgeLeuY, 'crossRot', '#2c55a8'),
    straight([1, 1], s3EdgeY, NAVY, 2.2),
    ln(s3CurveX, s3CurveY, '#7ab8e8', 1.8),
  ] },
  options: ryAxes(l, t, r, b),
  plugins: [framePlugin(), annot(null, (ctx: any, X: any, Y: any) => {
    regen(ctx, X, Y, [0.16, 0.32], [0.24, 0.92], -1);
    loading(ctx, X, Y, 1.07, 1.15);
    mark(ctx, 'triangle', X(0.31), Y(0.22), '#3f7fcf');
    txt(ctx, 'AsnRS', X(0.4), Y(0.22), 8, INK, 'left');
    mark(ctx, 'cross', X(0.31), Y(0.1), '#3f7fcf');
    txt(ctx, 'LeuRS', X(0.4), Y(0.1), 8, INK, 'left');
  })],
});
const makeS4 = (l: number, t: number, r: number, b: number) => ({
  type: 'line',
  data: { datasets: [
    mk(s4CircX, s4CircY, 'circle', '#b5d5f2'),
    mk(s4CrossX, s4CrossY, 'crossRot', '#a8d4f2'),
    mk(ones(s4EdgeCircY), s4EdgeCircY, 'circle', '#2c55a8', 2.5),
    mk(ones(s4EdgeTriY), s4EdgeTriY, 'triangle', '#2c55a8', 2.5),
    mk(ones(s4EdgeCrossY), s4EdgeCrossY, 'crossRot', '#2c55a8', 2.5),
    straight([1, 1], s4EdgeY, NAVY, 2.2),
    ln(s4CurveX, s4CurveY, '#8ec4ec', 1.8),
  ] },
  options: ryAxes(l, t, r, b),
  plugins: [framePlugin(), annot(null, (ctx: any, X: any, Y: any) => {
    regen(ctx, X, Y, [0.16, 0.06], [0.52, 0.59], 1);
    loading(ctx, X, Y, 1.06, 1.13);
    mark(ctx, 'circle', X(0.11), Y(1.16), '#3f7fcf');
    txt(ctx, '4 aaRSs', X(0.22), Y(1.16), 8, INK, 'left');
    mark(ctx, 'triangle', X(0.11), Y(1.05), '#3f7fcf');
    txt(ctx, '5 aaRSs', X(0.22), Y(1.05), 8, INK, 'left');
    mark(ctx, 'cross', X(0.11), Y(0.95), '#3f7fcf');
    txt(ctx, '7 aaRSs', X(0.22), Y(0.95), 8, INK, 'left');
  })],
});

// ---------- HTML helpers ----------
function Tx({ x, y, s, size = 7.5, color = INK, anchor = 'c', rot = 0, bold = false, z = 0 }: any) {
  const tr = anchor === 'c' ? 'translate(-50%,-50%)' : anchor === 'l' ? 'translate(0,-50%)' : 'translate(-100%,-50%)';
  return (
    <div style={{ position: 'absolute', left: x, top: y, transform: `${tr} rotate(${rot}deg)`, font: `${bold ? 'bold ' : ''}${size}px ${FONT}`, color, whiteSpace: 'nowrap', lineHeight: 1.15, textAlign: 'center', zIndex: z }}>
      {s}
    </div>
  );
}
function Box({ x, y, w, h }: any) {
  return <div style={{ position: 'absolute', left: x, top: y, width: w, height: h, border: '1.2px solid #333', borderRadius: 9, boxSizing: 'border-box', pointerEvents: 'none' }} />;
}
function Gene({ x, y, w, label, green = false }: any) {
  return (
    <>
      <div style={{ position: 'absolute', left: x - 3, top: y - 2, width: 3, height: 5, borderLeft: '1px solid #333', borderTop: '1px solid #333' }} />
      <div style={{ position: 'absolute', left: x, top: y, width: w, height: 7, background: green ? GFP_BG : GENE, color: green ? '#082a10' : GENE_TXT, font: `7px ${FONT}`, lineHeight: '7px', textAlign: 'center' }}>{label}</div>
    </>
  );
}
function Pill({ x, y, w, label, green = false }: any) {
  return (
    <div style={{ position: 'absolute', left: x, top: y, width: w, height: 7, borderRadius: green ? '50%' : 4, background: green ? GFP_BG : GENE, color: green ? '#082a10' : GENE_TXT, font: `7px ${FONT}`, lineHeight: '7px', textAlign: 'center' }}>{label}</div>
  );
}
function Swatch({ x, y, w = 10, color, h = 2, dashed = false }: any) {
  return <div style={{ position: 'absolute', left: x, top: y - h / 2, width: w, height: 0, borderTop: `${h}px ${dashed ? 'dashed' : 'solid'} ${color}` }} />;
}

const cDiagrams = [
  { top: 27, gfp: 34, arrowY: 42, genes: ['ArgRS', 'AsnRS', 'CysRS', 'GlnRS'], pills: ['ArgRS', 'AsnRS', 'CysRS', 'GlnRS'], tops: [47, 57, 67, 77], fb: 1 },
  { top: 100, gfp: 107, arrowY: 113, genes: ['ArgRS', 'CysRS', 'GlnRS', 'LeuRS', 'SerRS'], pills: ['AsnRS', 'LeuRS', 'GlnRS', 'LeuRS', 'SerRS'], tops: [120, 130, 140, 151, 161], fb: 1 },
  { top: 179, gfp: 187, arrowY: 193, genes: ['ArgRS', 'AsnRS', 'CysRS', 'GlnRS', 'IleRS', 'LeuRS', 'SerRS'], pills: ['ArgRS', 'AsnRS', 'CysRS', 'GlnRS', 'IleRS', 'LeuRS', 'SerRS'], tops: [199, 209, 219, 229, 239, 250, 260], fb: 1 },
];
const cLegends = [
  { y: 34, lo: '0.1 nM', hi: '0.3 nM' },
  { y: 117, lo: '0.2 nM', hi: '0.4 nM' },
  { y: 201, lo: '0.2 nM', hi: '0.4 nM' },
];
const cPlotTops = [28, 110, 194];
const B_BOX = { x: 40, y: 177, w: 285, h: 66 };

export default function App() {
  return (
    <div style={{ position: 'fixed', left: 0, top: 0, width: 685, height: 527, background: '#fff', overflow: 'hidden', fontFamily: FONT }}>
      <Box x={1} y={1} w={338} h={155} />
      <Box x={1} y={159} w={338} h={114} />
      <Box x={343} y={1} w={341} h={272} />
      <Box x={1} y={276} w={683} h={235} />

      {/* charts */}
      <Plot x={124} y={29} w={157} h={42} l={22} t={11} r={9} b={13} make={makeA1} />
      <Plot x={124} y={87} w={157} h={43} l={22} t={4} r={9} b={13} make={makeA2} />
      <Plot x={B_BOX.x} y={B_BOX.y} w={B_BOX.w} h={B_BOX.h} l={34} t={6} r={6} b={20} make={makeB} />
      <Plot x={473} y={28} w={200} h={53} l={22} t={11} r={9} b={13} make={makeC1} />
      <Plot x={473} y={110} w={200} h={53} l={22} t={11} r={9} b={13} make={makeC2} />
      <Plot x={473} y={194} w={200} h={53} l={22} t={11} r={9} b={13} make={makeC3} />
      <Plot x={69} y={292} w={239} h={63} l={22} t={4} r={4} b={4} make={makeYield} />
      <Plot x={400} y={293} w={237} h={62} l={22} t={4} r={4} b={4} make={makeRobust} />
      <Plot x={40} y={379} w={124} h={109} l={20} t={4} r={4} b={14} make={makeS1} />
      <Plot x={208} y={379} w={124} h={109} l={20} t={4} r={4} b={14} make={makeS2} />
      <Plot x={377} y={379} w={126} h={109} l={20} t={4} r={4} b={14} make={makeS3} />
      <Plot x={546} y={379} w={126} h={109} l={20} t={4} r={4} b={14} make={makeS4} />

      {/* panel labels & titles */}
      <Tx x={9} y={10} s="a" size={13} bold />
      <Tx x={8} y={168} s="b" size={13} bold />
      <Tx x={350} y={9} s="c" size={13} bold />
      <Tx x={9} y={286} s="d" size={13} bold />
      <Tx x={172} y={9} s="T7 RNAP and aaRS self-regeneration" size={11} />
      <Tx x={526} y={9} s="Multiple aaRS self-regeneration" size={11} />

      {/* panel a diagram */}
      <Tx x={49} y={27} s="Positive control" size={7.5} color={GREEN} />
      <Gene x={10} y={35} w={22} label="GFP" green />
      <Tx x={51} y={38} s="PURE" size={7} color="#e8504a" />
      <Pill x={73} y={35} w={17} label="GFP" green />
      <Tx x={49} y={55} s="Negative control" size={7.5} color="#f4a742" />
      <Gene x={10} y={63} w={22} label="GFP" green />
      <Tx x={51} y={67} s="ΔPURE" size={7} color="#f4a742" />
      <Tx x={49} y={83} s="Self-regeneration" size={7.5} color="#5b9bd5" />
      <Gene x={10} y={90} w={22} label="GFP" green />
      <Tx x={51} y={94} s="ΔPURE" size={7} color="#f4a742" />
      <Pill x={73} y={90} w={17} label="GFP" green />
      <Gene x={10} y={104} w={22} label="AsnRS" />
      <Gene x={10} y={114} w={22} label="LeuRS" />
      <Gene x={10} y={124} w={22} label="T7" />
      <Pill x={68} y={104} w={27} label="AsnRS" />
      <Pill x={68} y={114} w={27} label="LeuRS" />
      <Pill x={68} y={124} w={27} label="T7" />

      {/* panel a axes texts / legends */}
      <Tx x={107} y={79} s="Normalized eGFP" size={8} rot={-90} />
      <Tx x={202} y={147} s="Time (h)" size={8} />
      <Tx x={288} y={33} s="Each DNA" size={7.5} anchor="l" />
      <Swatch x={288} y={43} color={LIGHT} />
      <Tx x={302} y={43} s="0.4 nM" size={7.5} anchor="l" />
      <Swatch x={288} y={51} color={DARK} h={2.5} />
      <Tx x={302} y={51} s="0.5 nM" size={7.5} anchor="l" />
      <Tx x={288} y={91} s="Each aaRS" size={7.5} anchor="l" />
      <Tx x={288} y={99} s="DNA 0.5 nM" size={7.5} anchor="l" />
      <Swatch x={288} y={110} color={LAV} />
      <Tx x={302} y={110} s="T7 0.05 nM" size={7.5} anchor="l" />
      <Swatch x={288} y={118} color={SKY} />
      <Tx x={302} y={118} s="T7 0.1 nM" size={7.5} anchor="l" />
      <Swatch x={288} y={127} color={PURP} />
      <Tx x={302} y={127} s="T7 0.2 nM" size={7.5} anchor="l" />
      <Swatch x={288} y={135} color={DARK} />
      <Tx x={302} y={135} s="T7 0.5 nM" size={7.5} anchor="l" />

      {/* panel c diagrams */}
      {cDiagrams.map((d, k) => (
        <React.Fragment key={k}>
          <Tx x={394} y={d.top} s="Self-regeneration" size={7.5} color="#5b9bd5" />
          <Gene x={352} y={d.gfp} w={23} label="GFP" green />
          <Tx x={393} y={d.arrowY - 4} s="ΔPURE" size={7} color="#f4a742" />
          <Pill x={417} y={d.gfp} w={18} label="GFP" green />
          {d.genes.map((g, i) => <Gene key={'g' + i} x={352} y={d.tops[i]} w={23} label={g} />)}
          {d.pills.map((g, i) => <Pill key={'p' + i} x={412} y={d.tops[i]} w={27} label={g} />)}
        </React.Fragment>
      ))}
      {cPlotTops.map((t, k) => <Tx key={k} x={450} y={t + 26} s="Normalized eGFP" size={7.5} rot={-90} />)}
      <Tx x={573} y={266} s="Time (h)" size={8} />
      {cLegends.map((g, k) => (
        <React.Fragment key={k}>
          <Tx x={668} y={g.y} s="Each DNA" size={7.5} anchor="r" />
          <Swatch x={627} y={g.y + 8} color={LIGHT} />
          <Tx x={642} y={g.y + 8} s={g.lo} size={7.5} anchor="l" />
          <Swatch x={627} y={g.y + 16} color={DARK} h={2.5} />
          <Tx x={642} y={g.y + 16} s={g.hi} size={7.5} anchor="l" />
        </React.Fragment>
      ))}

      {/* panel d texts */}
      <Tx x={182} y={286} s="Yield" size={8} />
      <Tx x={518} y={287} s="Robustness" size={8} />
      <Tx x={33} y={323} s="Normalized" size={8} rot={-90} />
      <Tx x={42} y={323} s="eGFP" size={8} rot={-90} />
      <Tx x={362} y={324} s="Normalized" size={8} rot={-90} />
      <Tx x={371} y={324} s="eGFP" size={8} rot={-90} />
      <Tx x={182} y={363} s="Time (h)" size={8} />
      <Tx x={518} y={363} s="Time (h)" size={8} />
      <Tx x={662} y={290} s="[DNA]" size={9.5} />
      <Tx x={270} y={373} s="T7 RNAP" size={8} />
      <Tx x={438} y={373} s="Single aaRS" size={8} />
      <Tx x={608} y={373} s="Multiple aaRS" size={8} />
      {[[15, 89], [183, 258], [352, 427], [521, 596]].map((p, k) => (
        <React.Fragment key={k}>
          <Tx x={p[0]} y={436} s="Yield" size={8} rot={-90} />
          <Tx x={p[1]} y={508} s="Robustness" size={8} />
        </React.Fragment>
      ))}

      {/* bottom legend */}
      <Swatch x={12} y={521} w={11} color={GREEN} />
      <Tx x={32} y={521} s="Positive control" size={8.5} anchor="l" />
      <Swatch x={163} y={521} w={11} color={ORANGE} />
      <Tx x={184} y={521} s="Negative control" size={8.5} anchor="l" />
      <Swatch x={317} y={519} w={16} color={LIGHT} />
      <Swatch x={317} y={523} w={16} color={DARK} />
      <Tx x={343} y={521} s="Self-regeneration" size={8.5} anchor="l" />
      <Swatch x={477} y={519} w={16} color={LIGHT} dashed />
      <Swatch x={477} y={523} w={16} color={DARK} dashed />
      <Tx x={499} y={521} s="Self-regeneration: theoretical maximum yield" size={8.5} anchor="l" />

      {/* diagram arrows */}
      <svg width={685} height={527} style={{ position: 'absolute', left: 0, top: 0, pointerEvents: 'none' }}>
        <defs>
          <marker id="ah" markerWidth="6" markerHeight="6" refX="5" refY="3" orient="auto" markerUnits="userSpaceOnUse">
            <path d="M0,0.5 L5,3 L0,5.5" fill="none" stroke="#333" strokeWidth="0.9" />
          </marker>
          <linearGradient id="dnaG" x1="0" y1="0" x2="0" y2="1">
            <stop offset="0" stopColor="#16237a" />
            <stop offset="1" stopColor="#c4e6fa" />
          </linearGradient>
        </defs>
        <g stroke="#333" strokeWidth="0.8" fill="none">
          <line x1={34} y1={42.5} x2={68} y2={42.5} markerEnd="url(#ah)" />
          <line x1={34} y1={71.5} x2={68} y2={71.5} markerEnd="url(#ah)" />
          <line x1={34} y1={98.5} x2={68} y2={98.5} markerEnd="url(#ah)" />
          <path d="M68,117.5 H53.5 V103" markerEnd="url(#ah)" />
          {cDiagrams.map((d, k) => (
            <React.Fragment key={k}>
              <line x1={377} y1={d.arrowY + 0.5} x2={411} y2={d.arrowY + 0.5} markerEnd="url(#ah)" />
              <path d={`M412,${d.tops[d.fb] + 3.5} H399.5 V${d.arrowY + 4}`} markerEnd="url(#ah)" />
            </React.Fragment>
          ))}
        </g>
        <g stroke="#e8504a" strokeWidth="2">
          <line x1={76.5} y1={66.5} x2={83.5} y2={73.5} />
          <line x1={83.5} y1={66.5} x2={76.5} y2={73.5} />
        </g>
        <polygon points="650,298 674,298 662,350" fill="url(#dnaG)" />
      </svg>

      {/* panel b: y-axis title and tick labels */}
      <Tx x={12} y={210} s="eGFP [(μg/mL)/min]" size={7.5} rot={-90} z={10} />
      {bYTicks.map((v, i) => (
        <Tx key={'by' + i} x={B_BOX.x - 6} y={B_BOX.y + (1 - v / bYMax) * B_BOX.h} s={fmt1(v)} size={7.5} anchor="r" z={10} />
      ))}
    </div>
  );
}
